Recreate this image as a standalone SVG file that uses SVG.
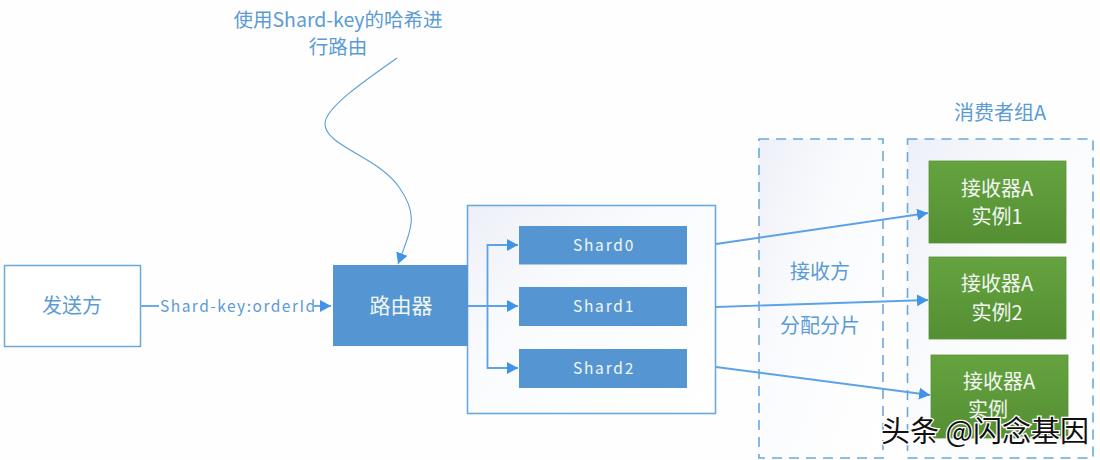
<svg xmlns="http://www.w3.org/2000/svg" width="1100" height="460" viewBox="0 0 1100 460">
<style>
.t{font-family:"Noto Sans CJK SC","Noto Sans",sans-serif;font-size:20px;text-anchor:middle}
.b{fill:#5b9bd5}
.w{fill:#f2f6f2}
.c{fill:none;stroke:#5ba3e6;stroke-width:1.8}
.d{fill:url(#fade);stroke:#69a9dc;stroke-width:1.6;stroke-dasharray:10 7}
.s{fill:#5596d2}
.g{fill:url(#green);stroke:#5b8f3a;stroke-width:.8}
.m{font-size:15.500px;letter-spacing:1.800px}
</style>
<defs>
<marker id="a" markerWidth="13" markerHeight="14" refX="11" refY="6" orient="auto" markerUnits="userSpaceOnUse"><path d="M0 0L11 6L0 12z" fill="#3f94ea"/></marker>
<linearGradient id="fade" x1="0" y1="0" x2="1" y2="1"><stop offset="0" stop-color="#edf0f8"/><stop offset=".4" stop-color="#fafbfd"/><stop offset="1" stop-color="#fff"/></linearGradient>
<linearGradient id="green" x1="0" y1="0" x2="0" y2="1"><stop offset="0" stop-color="#65a33f"/><stop offset="1" stop-color="#548f33"/></linearGradient>
</defs>
<rect width="1100" height="460" fill="#fefefe"/>
<g id="sender"><rect x="4.500" y="265.500" width="136" height="81" fill="#fff" stroke="#69a9dc" stroke-width="1.500"/><text class="t b" x="72" y="313">发送方</text></g>
<g id="shard-container"><rect x="467.500" y="205.500" width="248" height="208" fill="url(#fade)" stroke="#69a9dc" stroke-width="1.600"/></g>
<g id="router"><rect x="333" y="265" width="135" height="81" class="s"/><text class="t w" x="401" y="313" style="font-size:21px">路由器</text></g>
<g id="shard0"><rect x="519" y="226" width="168" height="38.500" class="s"/><text class="t w m" x="604" y="251">Shard0</text></g>
<g id="shard1"><rect x="519" y="287" width="168" height="39" class="s"/><text class="t w m" x="604" y="312">Shard1</text></g>
<g id="shard2"><rect x="519" y="349" width="168" height="39" class="s"/><text class="t w m" x="604" y="374">Shard2</text></g>
<g id="assign"><rect x="759" y="139" width="124" height="319" class="d"/><text class="t b" x="820" y="279">接收方</text><text class="t b" x="820" y="333">分配分片</text></g>
<g id="consumer-group"><rect x="907.500" y="139" width="185.500" height="319" class="d"/><text class="t b" x="1000" y="120">消费者组A</text></g>
<g id="instance1"><rect x="929" y="161" width="137" height="82" class="g"/><text class="t w" x="997" y="196">接收器A</text><text class="t w" x="997" y="224">实例1</text></g>
<g id="instance2"><rect x="929" y="257" width="137" height="82" class="g"/><text class="t w" x="997" y="291">接收器A</text><text class="t w" x="997" y="320">实例2</text></g>
<g id="instance3"><rect x="931" y="355" width="137" height="83" class="g"/><text class="t w" x="999" y="389">接收器A</text><text class="t w" x="988" y="417">实例</text></g>
<g id="note"><text class="t b" x="338" y="27" style="font-size:19.500px">使用Shard-key的哈希进</text><text class="t b" x="338" y="54" style="font-size:19.500px">行路由</text></g>
<g id="connectors">
<path class="c" d="M141 306H159"/>
<path class="c" d="M314 306H331" marker-end="url(#a)"/>
<path class="c" style="stroke-width:1.100;stroke:#5a9fd8" d="M397 58C360 84 326 108 325 123C324 146 376 155 399 187C418 214 413 225 398 264" marker-end="url(#a)"/>
<path class="c" d="M468 306H518" marker-end="url(#a)"/>
<path class="c" d="M518 245H487.500V368H518" marker-end="url(#a)"/>
<path class="c" d="M487.500 245H518" marker-end="url(#a)"/>
<path class="c" d="M716 244L928 213" marker-end="url(#a)"/>
<path class="c" d="M716 307L928 300" marker-end="url(#a)"/>
<path class="c" d="M716 367L930 395" marker-end="url(#a)"/>
</g>
<text class="t b m" x="160" y="312" style="text-anchor:start;letter-spacing:1.500px">Shard-key:orderId</text>
<text x="881" y="442" style="font-family:'Noto Sans CJK SC',sans-serif;font-size:29px;fill:#111;stroke:#fff;stroke-width:2.500px;paint-order:stroke">头条 @闪念基因</text>
</svg>
